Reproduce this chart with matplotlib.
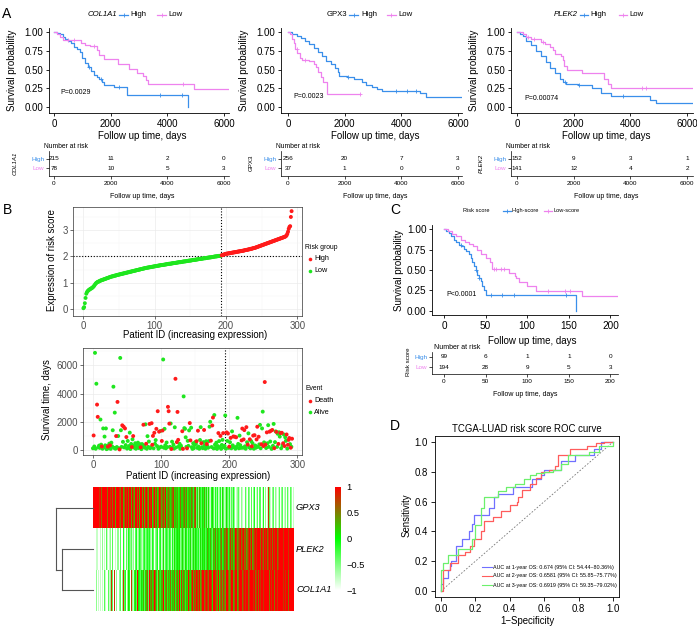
import numpy as np
import matplotlib
matplotlib.use("Agg")
import matplotlib.pyplot as plt
from matplotlib.lines import Line2D
from matplotlib.colors import LinearSegmentedColormap

plt.rcParams['font.family'] = ['Liberation Sans', 'DejaVu Sans']

# ======================= DATA =======================
# --- Panel A: Kaplan-Meier curves (time in days, survival after that time) ---
col_high_t = [0, 100, 200, 300, 400, 500, 600, 700, 800, 900, 1000, 1100, 1200, 1300, 1400, 1500, 1600, 1700, 1780, 2100, 2590, 4740]
col_high_s = [1.0, 0.99, 0.97, 0.94, 0.91, 0.88, 0.85, 0.80, 0.77, 0.73, 0.66, 0.59, 0.53, 0.48, 0.43, 0.40, 0.38, 0.33, 0.30, 0.27, 0.155, 0.0]
col_high_cens = [1250, 1650, 2300, 3750, 4500]
col_low_t = [0, 100, 200, 300, 950, 1100, 1280, 1500, 1600, 1750, 2270, 2640, 2930, 3130, 3240, 3330, 4940, 6280]
col_low_s = [1.0, 0.97, 0.93, 0.89, 0.86, 0.83, 0.81, 0.76, 0.70, 0.64, 0.57, 0.51, 0.46, 0.41, 0.36, 0.31, 0.24, 0.24]
col_low_cens = [500, 700, 1400, 4550]

gpx_high_t = [0, 150, 300, 450, 600, 750, 900, 1050, 1200, 1350, 1500, 1650, 1750, 1800, 2080, 2320, 2600, 2750, 2950, 3130, 3320, 4650, 4880, 6250]
gpx_high_s = [1.0, 0.98, 0.95, 0.92, 0.88, 0.84, 0.79, 0.74, 0.68, 0.62, 0.57, 0.52, 0.47, 0.42, 0.40, 0.37, 0.33, 0.30, 0.27, 0.24, 0.21, 0.19, 0.13, 0.13]
gpx_high_cens = [2100, 3800, 4200, 4500]
gpx_low_t = [0, 80, 140, 200, 260, 330, 420, 500, 750, 900, 1000, 1070, 1160, 1230, 1370, 2530]
gpx_low_s = [1.0, 0.97, 0.91, 0.85, 0.78, 0.72, 0.66, 0.63, 0.61, 0.58, 0.53, 0.47, 0.40, 0.34, 0.17, 0.17]
gpx_low_cens = [300, 600, 2530]

plek_high_t = [0, 100, 200, 320, 490, 670, 850, 1030, 1150, 1330, 1500, 1620, 1730, 2140, 2640, 2960, 3320, 4700, 4900, 6250]
plek_high_s = [1.0, 0.98, 0.95, 0.88, 0.83, 0.75, 0.68, 0.60, 0.52, 0.45, 0.38, 0.33, 0.31, 0.30, 0.26, 0.19, 0.15, 0.10, 0.05, 0.05]
plek_high_cens = [1700, 2200, 3750]
plek_low_t = [0, 200, 320, 490, 850, 1000, 1150, 1260, 1330, 1560, 1620, 1670, 1750, 2310, 3080, 3200, 3320, 6250]
plek_low_s = [1.0, 0.97, 0.94, 0.91, 0.87, 0.84, 0.80, 0.76, 0.71, 0.68, 0.63, 0.55, 0.49, 0.45, 0.38, 0.31, 0.25, 0.25]
plek_low_cens = [400, 600, 900, 4400, 4550]

a_table_times = [0, 2000, 4000, 6000]
col_risk_high = [215, 11, 2, 0]
col_risk_low = [78, 10, 5, 3]
gpx_risk_high = [256, 20, 7, 3]
gpx_risk_low = [37, 1, 0, 0]
plek_risk_high = [152, 9, 3, 1]
plek_risk_low = [141, 12, 4, 2]
a_pvalues = ["P=0.0029", "P=0.0023", "P=0.00074"]

# --- Panel B: risk score per patient (sorted) ---
risk_score = [
    0.03, 0.07, 0.22, 0.42, 0.58, 0.64, 0.68, 0.71, 0.73, 0.75,
    0.77, 0.78, 0.80, 0.82, 0.85, 0.88, 0.92, 0.96, 0.99, 1.01,
    1.03, 1.04, 1.05, 1.07, 1.08, 1.09, 1.10, 1.11, 1.12, 1.13,
    1.14, 1.15, 1.16, 1.17, 1.18, 1.19, 1.20, 1.21, 1.22, 1.23,
    1.24, 1.24, 1.25, 1.26, 1.27, 1.27, 1.28, 1.29, 1.30, 1.30,
    1.31, 1.32, 1.32, 1.33, 1.34, 1.34, 1.35, 1.36, 1.36, 1.37,
    1.38, 1.38, 1.39, 1.40, 1.40, 1.41, 1.42, 1.42, 1.43, 1.44,
    1.44, 1.45, 1.46, 1.46, 1.47, 1.48, 1.48, 1.49, 1.50, 1.50,
    1.51, 1.52, 1.52, 1.53, 1.54, 1.54, 1.55, 1.56, 1.56, 1.57,
    1.57, 1.58, 1.58, 1.59, 1.59, 1.60, 1.60, 1.61, 1.61, 1.62,
    1.62, 1.63, 1.63, 1.64, 1.64, 1.65, 1.65, 1.66, 1.66, 1.67,
    1.67, 1.67, 1.68, 1.68, 1.69, 1.69, 1.70, 1.70, 1.71, 1.71,
    1.72, 1.72, 1.72, 1.73, 1.73, 1.74, 1.74, 1.75, 1.75, 1.75,
    1.76, 1.76, 1.77, 1.77, 1.78, 1.78, 1.78, 1.79, 1.79, 1.80,
    1.80, 1.81, 1.81, 1.81, 1.82, 1.82, 1.83, 1.83, 1.84, 1.84,
    1.84, 1.85, 1.85, 1.86, 1.86, 1.87, 1.87, 1.87, 1.88, 1.88,
    1.89, 1.89, 1.90, 1.90, 1.90, 1.91, 1.91, 1.92, 1.92, 1.93,
    1.93, 1.93, 1.94, 1.94, 1.95, 1.95, 1.96, 1.96, 1.96, 1.97,
    1.97, 1.98, 1.98, 1.99, 1.99, 2.00, 2.00, 2.00, 2.01, 2.01,
    2.02, 2.02, 2.02, 2.03, 2.04, 2.05, 2.06, 2.07, 2.08, 2.09,
    2.10, 2.10, 2.11, 2.11, 2.12, 2.12, 2.13, 2.13, 2.14, 2.14,
    2.15, 2.15, 2.16, 2.16, 2.17, 2.17, 2.18, 2.18, 2.19, 2.19,
    2.20, 2.20, 2.21, 2.21, 2.22, 2.22, 2.23, 2.24, 2.24, 2.25,
    2.25, 2.26, 2.27, 2.27, 2.28, 2.29, 2.29, 2.30, 2.31, 2.32,
    2.32, 2.33, 2.34, 2.35, 2.36, 2.37, 2.38, 2.39, 2.40, 2.41,
    2.42, 2.43, 2.44, 2.45, 2.46, 2.47, 2.48, 2.49, 2.50, 2.51,
    2.52, 2.53, 2.54, 2.55, 2.56, 2.57, 2.58, 2.59, 2.60, 2.61,
    2.62, 2.63, 2.64, 2.65, 2.66, 2.67, 2.68, 2.69, 2.70, 2.71,
    2.72, 2.73, 2.74, 2.75, 2.77, 2.80, 2.86, 2.94, 3.05, 3.12,
    3.15, 3.50, 3.72,
]
n_low_risk = 194
risk_cutoff = 2.03

survival_days = [
    120, 1030, 250, 6890, 90, 4700, 3220, 2350, 200, 310,
    150, 2160, 380, 250, 90, 1530, 180, 950, 330, 1530,
    60, 280, 240, 120, 450, 330, 80, 520, 260, 1400,
    4490, 150, 2650, 90, 990, 210, 3410, 990, 120, 40,
    6530, 1400, 220, 1750, 580, 1650, 180, 1530, 350, 920,
    100, 640, 180, 280, 1230, 70, 430, 210, 760, 990,
    310, 150, 480, 90, 360, 240, 520, 140, 300, 410,
    190, 60, 420, 250, 1790, 300, 160, 1820, 440, 90,
    980, 220, 600, 1850, 130, 200, 1900, 370, 1000, 120,
    1220, 440, 700, 1500, 280, 2750, 90, 1300, 180, 1350,
    230, 640, 1380, 6420, 160, 1500, 330, 120, 530, 210,
    3060, 2750, 1870, 220, 1880, 70, 590, 150, 380, 100,
    1610, 5050, 180, 560, 2700, 720, 260, 440, 90, 310,
    150, 1330, 80, 3800, 1550, 1500, 900, 220, 120, 650,
    290, 1390, 1910, 680, 1580, 200, 80, 470, 130, 350,
    560, 430, 620, 150, 1370, 240, 90, 710, 1620, 480,
    200, 130, 560, 1420, 330, 90, 620, 420, 250, 160,
    630, 1650, 2000, 660, 210, 1740, 2300, 110, 2480, 380,
    150, 520, 80, 280, 1200, 630, 200, 1000, 80, 360,
    720, 1200, 190, 300, 2450, 90, 1250, 640, 1170, 150,
    240, 550, 860, 120, 1320, 330, 960, 200, 940, 90,
    900, 250, 2280, 430, 120, 1020, 340, 150, 680, 1520,
    160, 750, 1410, 260, 90, 1620, 550, 380, 1180, 200,
    760, 120, 630, 260, 480, 1020, 90, 1050, 320, 160,
    750, 1650, 220, 940, 400, 1780, 120, 410, 1530, 2720,
    280, 540, 4820, 380, 140, 1250, 480, 1760, 220, 1300,
    600, 1360, 80, 1420, 300, 1850, 130, 560, 1320, 1280,
    220, 1150, 430, 1260, 950, 1200, 120, 1220, 330, 480,
    1100, 280, 900, 650, 1100, 100, 370, 720, 850, 420,
    160, 230, 800,
]
survival_event = (
    "ADAAAADDAA" "AAADAAAAAA" "AADAADAAAA" "AAAADADAAD" "AAADADADAD"
    "AAAAAAADAD" "AAAAAAAAAA" "DAAADAAADA" "AAADAADDDA" "DAADADADAA"
    "ADDAAAAAAA" "DDDAADAAAA" "ADADDDAAAA" "ADDAAAAADA" "AADDAAAAAA"
    "AADADAAAAD" "AAADAAADAA" "AAADADDAAA" "AAAADAADAA" "ADAAAADADA"
    "DADAAADADA" "DAAAAAAADD" "ADDAADADAA" "DAADADADAA" "DDADAAADAA"
    "DADDADAAAD" "ADADAADAAD" "AADAADADAD" "ADAADADDDA" "DAD"
)

# heatmap: expression level codes 0..9  (0 = -1, 9 = +1)
heat_genes = ["GPX3", "PLEK2", "COL1A1"]
heat_gpx3 = (
    "9999799998" "9979999699" "9799989979" "9969997989" "7999679989"
    "9769986997" "6989799679" "9869768997" "6798695879" "7689569786"
    "5787697568" "7659676857" "6576485765" "5647567485" "6457564758"
    "3452364135" "2463152352" "3142536142" "2415243152" "3142513241"
    "1302412031" "2031402130" "0231703120" "1302140213" "2031302140"
    "1203180312" "0213042103" "1320213021" "2103120312" "021"
)
heat_plek2 = (
    "0100011200" "1002301003" "0102120130" "2013020201" "3020413032"
    "1403203142" "0324132403" "2413042314" "3042314230" "4231403241"
    "3254132435" "2435143254" "3425435243" "5342534254" "3452435345"
    "4534625435" "6453546354" "5645364576" "4657465746" "5746857465"
    "8697586978" "6978697869" "7986978697" "8967989789" "6998799879"
    "9899789989" "9799899979" "8999999899" "9999899999" "999"
)
heat_col1a1 = (
    "0100820010" "1201803010" "2030128030" "1803204021" "3042831403"
    "2514038241" "4563925463" "5746935647" "3596475369" "4756375846"
    "5697465748" "6579468576" "4687569478" "5796486579" "6857496857"
    "9687596879" "5978698579" "6987596989" "7698579869" "8796989769"
    "7989697989" "6979899798" "9689797989" "7998697989" "9799896989"
    "7998999799" "8999799989" "9979999899" "8999799989" "979"
)

# --- Panel C: risk score KM ---
c_high_t = [0, 3, 6, 9, 12, 15, 18, 21, 24, 27, 30, 32, 34, 36, 38, 40, 42, 44, 46, 48, 50, 159]
c_high_s = [1.0, 0.98, 0.95, 0.91, 0.87, 0.84, 0.81, 0.79, 0.76, 0.73, 0.70, 0.65, 0.60, 0.55, 0.50, 0.44, 0.40, 0.36, 0.31, 0.26, 0.19, 0.0]
c_high_cens = [20, 38, 42, 56, 70, 84, 147]
c_low_t = [0, 5, 10, 15, 20, 25, 30, 35, 40, 45, 50, 55, 58, 78, 85, 87, 90, 100, 110, 166, 210]
c_low_s = [1.0, 0.97, 0.94, 0.91, 0.87, 0.84, 0.82, 0.79, 0.75, 0.70, 0.65, 0.60, 0.51, 0.46, 0.43, 0.40, 0.35, 0.31, 0.24, 0.18, 0.18]
c_low_cens = [60, 63, 68, 72, 125, 145, 152]
c_table_times = [0, 50, 100, 150, 200]
c_risk_high = [99, 6, 1, 1, 0]
c_risk_low = [194, 28, 9, 5, 3]

# --- Panel D: ROC curves ---
roc1_fpr = [0, 0, 0.01, 0.04, 0.04, 0.05, 0.06, 0.09, 0.09, 0.12, 0.12, 0.15, 0.16, 0.18, 0.19, 0.25, 0.28, 0.31, 0.33, 0.42,
            0.42, 0.51, 0.53, 0.58, 0.60, 0.66, 0.70, 0.75, 0.78, 0.87, 0.89, 0.93, 0.93, 1.0]
roc1_tpr = [0, 0.05, 0.09, 0.09, 0.14, 0.17, 0.20, 0.20, 0.30, 0.30, 0.35, 0.35, 0.40, 0.45, 0.51, 0.51, 0.56, 0.63, 0.65, 0.65,
            0.70, 0.70, 0.75, 0.78, 0.81, 0.81, 0.87, 0.87, 0.91, 0.91, 0.95, 0.95, 1.0, 1.0]
roc2_fpr = [0, 0.01, 0.01, 0.04, 0.05, 0.09, 0.10, 0.14, 0.17, 0.19, 0.23, 0.25, 0.25, 0.30, 0.35, 0.39, 0.40, 0.44, 0.45, 0.47,
            0.52, 0.55, 0.58, 0.63, 0.66, 0.68, 0.72, 0.75, 0.85, 0.90, 0.95, 1.0]
roc2_tpr = [0, 0.04, 0.14, 0.14, 0.19, 0.19, 0.24, 0.26, 0.30, 0.35, 0.40, 0.40, 0.47, 0.50, 0.54, 0.54, 0.58, 0.60, 0.63, 0.68,
            0.72, 0.76, 0.80, 0.81, 0.84, 0.91, 0.91, 0.95, 0.97, 0.99, 1.0, 1.0]
roc3_fpr = [0, 0, 0.01, 0.04, 0.04, 0.08, 0.10, 0.14, 0.18, 0.20, 0.23, 0.25, 0.29, 0.33, 0.38, 0.43, 0.48, 0.52, 0.55, 0.60,
            0.65, 0.70, 0.74, 0.86, 0.92, 1.0, 1.0]
roc3_tpr = [0, 0.14, 0.19, 0.19, 0.24, 0.24, 0.28, 0.28, 0.35, 0.44, 0.56, 0.63, 0.63, 0.67, 0.70, 0.72, 0.75, 0.78, 0.79, 0.80,
            0.81, 0.85, 0.91, 0.93, 0.97, 0.97, 1.0]
roc_labels = ["AUC at 1-year OS: 0.674 (95% CI: 54.44\u201380.36%)",
              "AUC at 2-year OS: 0.6581 (95% CI: 55.85\u201375.77%)",
              "AUC at 3-year OS: 0.6919 (95% CI: 59.35\u201379.02%)"]

# ======================= STYLE / LAYOUT =======================
W, H = 697, 629
fig = plt.figure(figsize=(W / 100, H / 100), dpi=100)
fig.patch.set_facecolor('white')

BLUE = '#3A8FEA'
PINK = '#EE82EE'
RED = '#FF1A1A'
GREEN = '#1EE61E'


def axpx(x0, y0, x1, y1):
    return fig.add_axes([x0 / W, 1 - y1 / H, (x1 - x0) / W, (y1 - y0) / H])


def ftext(x, y, s, **kw):
    kw.setdefault('ha', 'center')
    kw.setdefault('va', 'center')
    return fig.text(x / W, 1 - y / H, s, **kw)


def fline(xs, ys, **kw):
    fig.add_artist(Line2D([x / W for x in xs], [1 - y / H for y in ys],
                          transform=fig.transFigure, **kw))


def step_at(t, s, x):
    idx = np.searchsorted(np.asarray(t), np.asarray(x), side='right') - 1
    return np.asarray(s)[idx]


def km_axes(box, zero_px, scale, y1px, y0px, curves, xticks, fs=7):
    ax = axpx(*box)
    ax.set_xlim((box[0] - zero_px) / scale, (box[2] - zero_px) / scale)
    ppu = y0px - y1px
    ax.set_ylim(-(box[3] - y0px) / ppu, 1 + (y1px - box[1]) / ppu)
    for t, s, cens, col in curves:
        ax.step(t, s, where='post', color=col, lw=0.9)
        ax.plot(cens, step_at(t, s, cens), linestyle='none', marker='+',
                color=col, ms=3, mew=0.6)
    for sp in ['top', 'right']:
        ax.spines[sp].set_visible(False)
    for sp in ['left', 'bottom']:
        ax.spines[sp].set_linewidth(0.6)
    ax.set_xticks(xticks)
    yt = [0, 0.25, 0.5, 0.75, 1.0]
    ax.set_yticks(yt)
    ax.set_yticklabels(['%.2f' % v for v in yt])
    ax.tick_params(length=2.5, width=0.6, labelsize=fs, pad=1.5)
    ax.set_facecolor('none')
    return ax


def risk_table(box, zero_px, scale, times, highs, lows, rows_px, fs=4.6):
    ax = axpx(*box)
    ax.set_xlim((box[0] - zero_px) / scale, (box[2] - zero_px) / scale)
    ax.set_ylim(box[3], box[1])
    for t, h, l in zip(times, highs, lows):
        ax.text(t, rows_px[0], str(h), ha='center', va='center', fontsize=fs)
        ax.text(t, rows_px[1], str(l), ha='center', va='center', fontsize=fs)
    ax.set_xticks(times)
    ax.set_yticks(rows_px)
    ax.set_yticklabels(['High', 'Low'])
    for lab, c in zip(ax.get_yticklabels(), [BLUE, PINK]):
        lab.set_color(c)
    for sp in ['top', 'right']:
        ax.spines[sp].set_visible(False)
    for sp in ['left', 'bottom']:
        ax.spines[sp].set_linewidth(0.5)
    ax.tick_params(length=2, width=0.5, labelsize=fs, pad=1.5)
    ax.set_facecolor('none')
    return ax


def legend_km(y, title, title_x, items, fs=5.6, italic=True):
    ftext(title_x, y, title, ha='left', fontsize=fs, style='italic' if italic else 'normal')
    for (x0, x1, tx, lab, col) in items:
        fline([x0, x1], [y, y], color=col, lw=0.9)
        fig.add_artist(Line2D([(x0 + x1) / 2 / W], [1 - y / H], transform=fig.transFigure,
                              marker='+', color=col, ms=3, mew=0.6, linestyle='none'))
        ftext(tx, y, lab, ha='left', fontsize=fs)


# ---------------- Panel A ----------------
scaleA = 170 / 6000.0
a_specs = [
    dict(box=(49, 28, 229, 113), zero=54,
         curves=[(col_high_t, col_high_s, col_high_cens, BLUE), (col_low_t, col_low_s, col_low_cens, PINK)],
         risk=(col_risk_high, col_risk_low), gene="COL1A1", italic=True, ylx=12, xlc=142, tlx=15,
         pv=a_pvalues[0], pvxy=(60, 93),
         leg=(88, [(119, 128, 130, 'High', BLUE), (157, 166, 168, 'Low', PINK)])),
    dict(box=(281, 28, 462, 113), zero=288,
         curves=[(gpx_high_t, gpx_high_s, gpx_high_cens, BLUE), (gpx_low_t, gpx_low_s, gpx_low_cens, PINK)],
         risk=(gpx_risk_high, gpx_risk_low), gene="GPX3", italic=False, ylx=244, xlc=375, tlx=251,
         pv=a_pvalues[1], pvxy=(293, 97),
         leg=(327, [(349, 358, 361, 'High', BLUE), (387, 396, 398, 'Low', PINK)])),
    dict(box=(511, 28, 693, 113), zero=517,
         curves=[(plek_high_t, plek_high_s, plek_high_cens, BLUE), (plek_low_t, plek_low_s, plek_low_cens, PINK)],
         risk=(plek_risk_high, plek_risk_low), gene="PLEK2", italic=True, ylx=474, xlc=606, tlx=481,
         pv=a_pvalues[2], pvxy=(524, 98),
         leg=(554, [(580, 588, 590, 'High', BLUE), (619, 627, 629, 'Low', PINK)])),
]
for sp in a_specs:
    ax = km_axes(sp['box'], sp['zero'], scaleA, 32, 107, sp['curves'], [0, 2000, 4000, 6000])
    ftext(sp['ylx'], 70, 'Survival probability', rotation=90, fontsize=7)
    ftext(sp['xlc'], 136, 'Follow up time, days', fontsize=7)
    ftext(sp['pvxy'][0], sp['pvxy'][1], sp['pv'], ha='left', fontsize=5)
    legend_km(15, sp['gene'], sp['leg'][0], sp['leg'][1], italic=sp['italic'])
    tb = (sp['box'][0], 151, sp['box'][2], 176)
    risk_table(tb, sp['zero'], scaleA, a_table_times, sp['risk'][0], sp['risk'][1], [159, 168])
    ftext(sp['box'][0] - 5, 146, 'Number at risk', ha='left', fontsize=4.9)
    ftext(sp['xlc'], 196, 'Follow up time, days', fontsize=5)
    ftext(sp['tlx'], 163, sp['gene'], rotation=90, fontsize=4.4,
          style='italic' if sp['italic'] else 'normal')

# ---------------- Panel B (top): risk score ----------------
n_pat = len(risk_score)
pid = np.arange(n_pat)
rs = np.asarray(risk_score)
low_mask = pid < n_low_risk


def bw_axes(box, xlim, ylim, xmaj, xmin, ymaj, ymin, ytl):
    ax = axpx(*box)
    ax.set_xlim(*xlim)
    ax.set_ylim(*ylim)
    ax.set_xticks(xmaj)
    ax.set_xticks(xmin, minor=True)
    ax.set_yticks(ymaj)
    ax.set_yticks(ymin, minor=True)
    ax.set_yticklabels(ytl)
    ax.grid(which='major', color='#EBEBEB', lw=0.5)
    ax.grid(which='minor', color='#F4F4F4', lw=0.3)
    ax.set_axisbelow(True)
    for s in ax.spines.values():
        s.set_color('#333333')
        s.set_linewidth(0.5)
    ax.tick_params(which='major', length=2, width=0.5, color='#333333', labelsize=6.9,
                   labelcolor='#4D4D4D', pad=1.5)
    ax.tick_params(which='minor', length=0)
    return ax


axB1 = bw_axes((73, 207, 302, 316), (-14.6, 306.6), (-0.266, 3.878),
               [0, 100, 200, 300], [50, 150, 250], [0, 1, 2, 3], [0.5, 1.5, 2.5, 3.5],
               ['0', '1', '2', '3'])
axB1.scatter(pid[low_mask], rs[low_mask], s=8, color=GREEN, edgecolors='none', zorder=3)
axB1.scatter(pid[~low_mask], rs[~low_mask], s=8, color=RED, edgecolors='none', zorder=3)
axB1.axvline(n_low_risk - 0.5, color='black', lw=0.8, ls=(0, (1, 1.6)))
axB1.axhline(risk_cutoff, color='black', lw=0.8, ls=(0, (1, 1.6)))
ftext(52, 260, 'Expression of risk score', rotation=90, fontsize=6.9)
ftext(195, 335, 'Patient ID (increasing expression)', fontsize=6.9)
ftext(305, 247, 'Risk group', ha='left', fontsize=4.9)
for yy, lab, col in [(259, 'High', RED), (271, 'Low', GREEN)]:
    fig.add_artist(Line2D([310 / W], [1 - yy / H], transform=fig.transFigure, marker='o',
                          ms=2.6, color=col, mec='none', linestyle='none'))
    ftext(314, yy, lab, ha='left', fontsize=5.2)

# ---------------- Panel B (middle): survival time ----------------
sd = np.asarray(survival_days)
ev = np.array([c == 'D' for c in survival_event])
axB2 = bw_axes((83, 348, 302, 455), (-14.6, 306.6), (-355, 7234),
               [0, 100, 200, 300], [50, 150, 250], [0, 2000, 4000, 6000], [1000, 3000, 5000, 7000],
               ['0', '2000', '4000', '6000'])
axB2.scatter(pid[~ev], sd[~ev], s=8, color=GREEN, edgecolors='none', zorder=3)
axB2.scatter(pid[ev], sd[ev], s=8, color=RED, edgecolors='none', zorder=3)
axB2.axvline(n_low_risk - 0.5, color='black', lw=0.8, ls=(0, (1, 1.6)))
ftext(47, 400, 'Survival time, days', rotation=90, fontsize=6.9)
ftext(198, 476, 'Patient ID (increasing expression)', fontsize=6.9)
ftext(305, 388, 'Event', ha='left', fontsize=4.9)
for yy, lab, col in [(401, 'Death', RED), (412, 'Alive', GREEN)]:
    fig.add_artist(Line2D([310 / W], [1 - yy / H], transform=fig.transFigure, marker='o',
                          ms=2.6, color=col, mec='none', linestyle='none'))
    ftext(314, yy, lab, ha='left', fontsize=5.2)

# ---------------- Heatmap ----------------
heat_rows = [heat_gpx3, heat_plek2, heat_col1a1]
M = np.array([[-1 + 2 * int(ch) / 9.0 for ch in row] for row in heat_rows])
cmap = LinearSegmentedColormap.from_list('wgr', [(0, 'white'), (0.5, '#00FF00'), (1.0, '#FF0000')])
axH = axpx(93, 487, 294, 611)
axH.imshow(M, aspect='auto', cmap=cmap, vmin=-1, vmax=1, interpolation='nearest',
           extent=(0, M.shape[1], 3, 0))
axH.axis('off')
for i, g in enumerate(heat_genes):
    ftext(296, 508 + i * 41, g, ha='left', fontsize=6.7, style='italic')
# dendrogram
dcol = '#555555'
fline([56, 93], [508, 508], color=dcol, lw=0.8)
fline([62, 93], [549, 549], color=dcol, lw=0.8)
fline([62, 93], [590, 590], color=dcol, lw=0.8)
fline([62, 62], [549, 590], color=dcol, lw=0.8)
fline([56, 62], [569.5, 569.5], color=dcol, lw=0.8)
fline([56, 56], [508, 569.5], color=dcol, lw=0.8)
# colorbar
axCB = axpx(335, 487, 341, 590)
axCB.imshow(np.linspace(1, -1, 256)[:, None], aspect='auto', cmap=cmap, vmin=-1, vmax=1,
            extent=(0, 1, -1, 1))
axCB.set_xticks([])
axCB.yaxis.tick_right()
axCB.set_yticks([1, 0.5, 0, -0.5, -1])
axCB.set_yticklabels(['1', '0.5', '0', '\u22120.5', '\u22121'])
axCB.tick_params(length=0, labelsize=6.7, pad=4)
for s in axCB.spines.values():
    s.set_visible(False)

# ---------------- Panel C ----------------
scaleC = 41.6 / 50.0
axC = km_axes((432, 225, 618, 315), 444, scaleC, 229, 311,
              [(c_high_t, c_high_s, c_high_cens, BLUE), (c_low_t, c_low_s, c_low_cens, PINK)],
              [0, 50, 100, 150, 200], fs=7.2)
ftext(399, 270, 'Survival probability', rotation=90, fontsize=7)
ftext(532, 341, 'Follow up time, days', fontsize=7)
ftext(446, 294, 'P<0.0001', ha='left', fontsize=5)
legend_km(211, 'Risk score', 463, [(503, 511, 512, 'High-score', BLUE), (544, 552, 553, 'Low-score', PINK)],
          fs=4.1, italic=False)
risk_table((432, 352, 618, 374), 444, scaleC, c_table_times, c_risk_high, c_risk_low, [357, 367])
ftext(434, 347, 'Number at risk', ha='left', fontsize=5)
ftext(525, 395, 'Follow up time, days', fontsize=5)
ftext(408, 362, 'Risk score', rotation=90, fontsize=4.4)

# ---------------- Panel D ----------------
axD = axpx(435, 436, 619, 597)
axD.set_xlim(-6 / 172, 1 + 6 / 172)
axD.set_ylim(-6 / 149, 1 + 6 / 149)
axD.plot([0, 1], [0, 1], color='#777777', lw=0.6, ls=(0, (2, 2)))
roc_cols = ['#7070FF', '#FF5C5C', '#6CF06C']
for fpr, tpr, c in [(roc1_fpr, roc1_tpr, roc_cols[0]), (roc2_fpr, roc2_tpr, roc_cols[1]),
                    (roc3_fpr, roc3_tpr, roc_cols[2])]:
    axD.step(fpr, tpr, where='post', color=c, lw=0.9)
ticksD = [0, 0.2, 0.4, 0.6, 0.8, 1.0]
axD.set_xticks(ticksD)
axD.set_yticks(ticksD)
axD.set_xticklabels(['%.1f' % v for v in ticksD])
axD.set_yticklabels(['%.1f' % v for v in ticksD])
for s in axD.spines.values():
    s.set_linewidth(0.6)
axD.tick_params(length=3, width=0.6, labelsize=6.9, pad=2)
ftext(527, 429, 'TCGA-LUAD risk score ROC curve', fontsize=6.9)
ftext(407, 515, 'Sensitivity', rotation=90, fontsize=6.9)
ftext(527, 621, '1\u2212Specificity', fontsize=6.9)
for yy, lab, c in zip([567, 575.5, 585], roc_labels, roc_cols):
    fline([482, 492], [yy, yy], color=c, lw=0.8)
    ftext(493, yy, lab, ha='left', fontsize=3.9)

# ---------------- panel letters ----------------
for x, y, L in [(7, 14, 'A'), (8, 210, 'B'), (395, 210, 'C'), (395, 426, 'D')]:
    ftext(x, y, L, fontsize=10)

fig.savefig('out.png', dpi=100, facecolor='white')
